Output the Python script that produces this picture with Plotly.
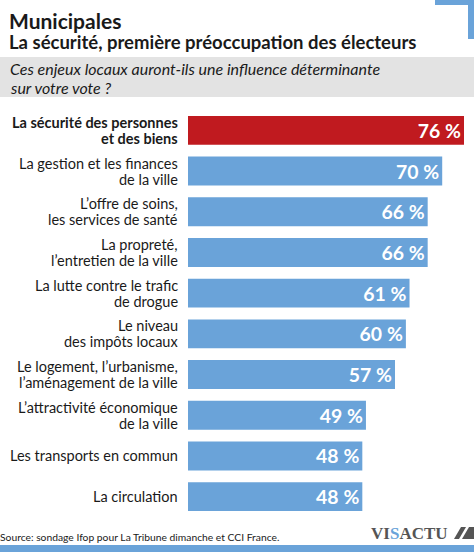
import plotly.graph_objects as go

categories = [
    ["La sécurité des personnes", "et des biens"],
    ["La gestion et les finances", "de la ville"],
    ["L’offre de soins,", "les services de santé"],
    ["La propreté,", "l’entretien de la ville"],
    ["La lutte contre le trafic", "de drogue"],
    ["Le niveau", "des impôts locaux"],
    ["Le logement, l’urbanisme,", "l’aménagement de la ville"],
    ["L’attractivité économique", "de la ville"],
    ["Les transports en commun"],
    ["La circulation"],
]
values = [76, 70, 66, 66, 61, 60, 57, 49, 48, 48]
highlight = [True, False, False, False, False, False, False, False, False, False]

RED = "#c01a1f"
BLUE = "#6aa3d9"
FONT = "Lato"
W, H = 474, 552
ML, MR, MT, MB = 188, 10, 110, 35

colors = [RED if h else BLUE for h in highlight]
texts = [f"{v}\u202f%" for v in values]

fig = go.Figure()
fig.add_trace(go.Bar(
    x=values, y=list(range(len(values))), orientation="h",
    marker=dict(color=colors, line=dict(width=0)),
    text=texts, textposition="inside", insidetextanchor="end",
    textfont=dict(color="white", size=19.5, family=FONT, weight="bold"),
    cliponaxis=False, hoverinfo="skip",
))

fig.update_layout(
    width=W, height=H,
    margin=dict(l=ML, r=MR, t=MT, b=MB),
    paper_bgcolor="white", plot_bgcolor="white",
    bargap=0.29, showlegend=False,
    font=dict(family=FONT, color="#1a1a1a"),
    xaxis=dict(range=[0, 76], visible=False, fixedrange=True),
    yaxis=dict(range=[len(values) - 0.5, -0.5], visible=False, fixedrange=True),
)

def px(x):
    return (x - ML) / (W - ML - MR)

def py(y):
    return (H - MB - y) / (H - MT - MB)

# category labels, one annotation per line for tight line spacing
for i, (lines, h) in enumerate(zip(categories, highlight)):
    n = len(lines)
    for j, line in enumerate(lines):
        off = (j - (n - 1) / 2) * 16
        fig.add_annotation(
            x=0, y=i, xref="x", yref="y", xanchor="right", yanchor="middle",
            xshift=-8, yshift=-off, text=line, showarrow=False, align="right",
            font=dict(size=14.5, family=FONT, color="#1a1a1a",
                      weight="bold" if h else "normal"),
        )

shapes = [
    dict(type="rect", xref="paper", yref="paper", x0=px(0), x1=px(474),
         y0=py(97), y1=py(57), fillcolor="#e3e3e3", line_width=0, layer="above"),
    dict(type="rect", xref="paper", yref="paper", x0=px(435), x1=px(474),
         y0=py(5), y1=py(0), fillcolor=BLUE, line_width=0),
    dict(type="rect", xref="paper", yref="paper", x0=px(468), x1=px(474),
         y0=py(39), y1=py(0), fillcolor=BLUE, line_width=0),
    dict(type="rect", xref="paper", yref="paper", x0=px(0), x1=px(474),
         y0=py(552), y1=py(545), fillcolor=BLUE, line_width=0),
    dict(type="path", xref="paper", yref="paper",
         path=f"M {px(454)} {py(539)} L {px(461)} {py(527)} L {px(466)} {py(527)} L {px(459)} {py(539)} Z",
         fillcolor="#555555", line_width=0),
    dict(type="path", xref="paper", yref="paper",
         path=f"M {px(462)} {py(539)} L {px(469)} {py(527)} L {px(474)} {py(527)} L {px(474)} {py(539)} Z",
         fillcolor="#555555", line_width=0),
]
fig.update_layout(shapes=shapes)

fig.add_annotation(x=px(7), y=py(6), xref="paper", yref="paper", text="Municipales",
                   showarrow=False, xanchor="left", yanchor="top",
                   font=dict(size=21, family=FONT, color="#1a1a1a", weight="bold"))
fig.add_annotation(x=px(7), y=py(29), xref="paper", yref="paper",
                   text="La sécurité, première préoccupation des électeurs",
                   showarrow=False, xanchor="left", yanchor="top",
                   font=dict(size=18.5, family=FONT, color="#1a1a1a", weight="bold"))
fig.add_annotation(x=px(8), y=py(68.5), xref="paper", yref="paper",
                   text="<i>Ces enjeux locaux auront-ils une influence déterminante</i>",
                   showarrow=False, xanchor="left", yanchor="middle",
                   font=dict(size=16, family=FONT, color="#1a1a1a"))
fig.add_annotation(x=px(8), y=py(87), xref="paper", yref="paper",
                   text="<i>sur votre vote ?</i>",
                   showarrow=False, xanchor="left", yanchor="middle",
                   font=dict(size=16, family=FONT, color="#1a1a1a"))
fig.add_annotation(x=px(0), y=py(537), xref="paper", yref="paper",
                   text="Source: sondage Ifop pour La Tribune dimanche et CCI France.",
                   showarrow=False, xanchor="left", yanchor="middle", xshift=-2,
                   font=dict(size=10.3, family=FONT, color="#1a1a1a"))
fig.add_annotation(x=px(450), y=py(533), xref="paper", yref="paper",
                   text="VI<span style='color:#6aa3d9'>S</span>ACTU",
                   showarrow=False, xanchor="right", yanchor="middle",
                   font=dict(size=17, family="Liberation Sans Narrow", color="#555555", weight="bold"))

fig.write_html("out.html")
